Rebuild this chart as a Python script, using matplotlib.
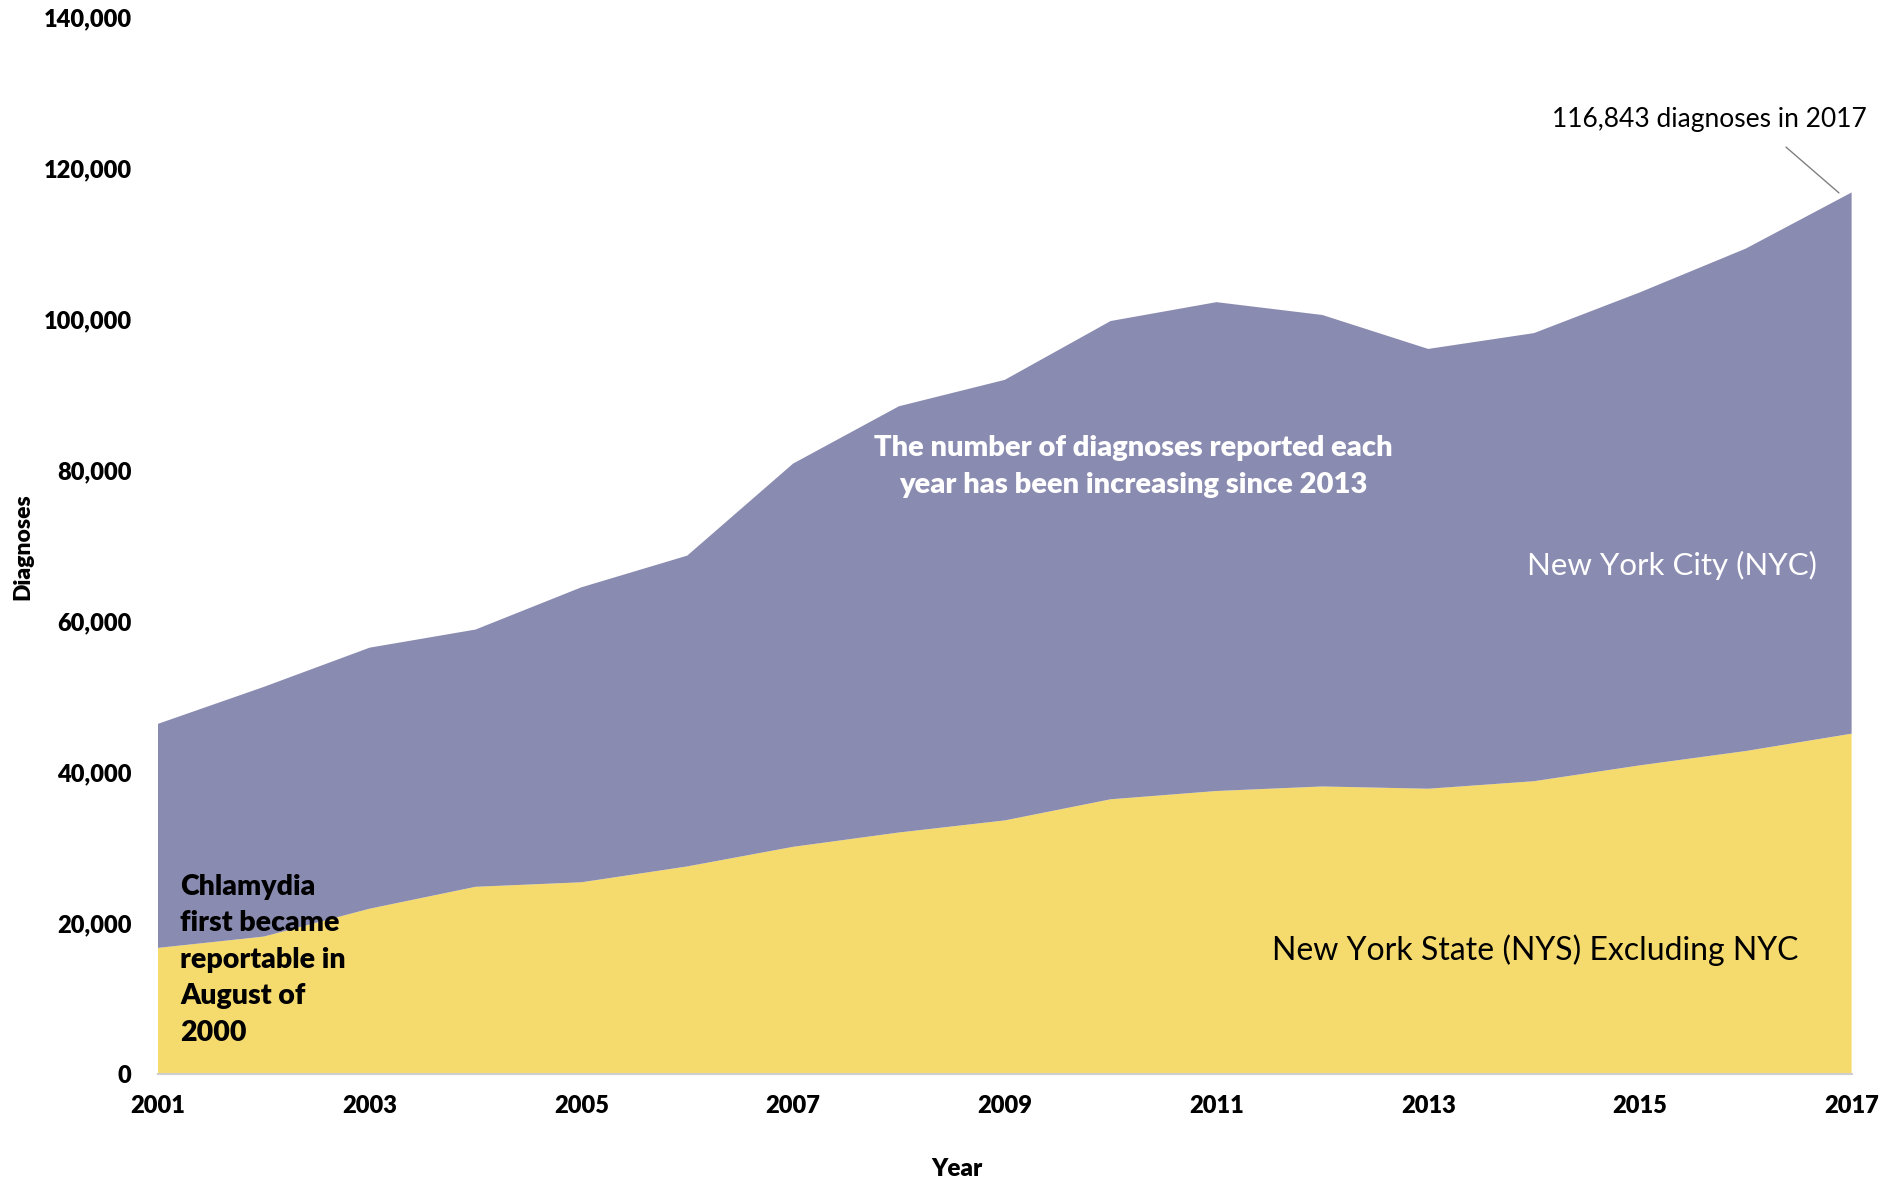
import numpy as np
import matplotlib.pyplot as plt
from matplotlib.ticker import FuncFormatter

plt.rcParams['font.family'] = ['Lato', 'DejaVu Sans']

years = np.arange(2001, 2018)
# diagnoses, New York State excluding NYC
nys = [16700, 18200, 21900, 24800, 25400, 27500, 30100, 32000, 33600,
       36400, 37500, 38100, 37800, 38800, 40900, 42800, 45100]
# diagnoses, New York City
nyc = [29700, 33100, 34600, 34100, 39100, 41200, 50800, 56500, 58400,
       63400, 64800, 62500, 58300, 59400, 62700, 66600, 71743]
total_2017 = 116843

col_nys = '#F5DB6D'
col_nyc = '#8A8BB0'
bold = 'heavy'

fig = plt.figure(figsize=(19.03, 11.84), dpi=100)
ax = fig.add_axes([0.083, 0.093, 0.890, 0.892])

ax.stackplot(years, nys, nyc, colors=[col_nys, col_nyc], lw=0)

ax.set_xlim(2001, 2017)
ax.set_ylim(0, 140000)
ax.set_xticks(np.arange(2001, 2018, 2))
ax.set_yticks(np.arange(0, 140001, 20000))
ax.yaxis.set_major_formatter(FuncFormatter(lambda v, p: f'{int(v):,}'))
ax.tick_params(length=0, labelsize=17, pad=15)
ax.tick_params(axis='y', pad=19)
for lab in ax.get_xticklabels() + ax.get_yticklabels():
    lab.set_fontweight(bold)

for s in ['top', 'right', 'left']:
    ax.spines[s].set_visible(False)
ax.spines['bottom'].set_color('#cfcfcf')
ax.spines['bottom'].set_linewidth(1.5)

fig.text(0.503, 0.013, 'Year', ha='center', va='center', fontsize=17.5, fontweight=bold)
fig.text(0.012, 0.538, 'Diagnoses', ha='center', va='center', rotation=90,
         fontsize=16.5, fontweight=bold)

# callout for the 2017 total
ax.text(2017.14, 126500, f'{total_2017:,} diagnoses in 2017', ha='right', va='center',
        fontsize=19)
ax.annotate('', xy=(2016.9, total_2017 - 300), xytext=(2016.36, 123100),
            arrowprops=dict(arrowstyle='-', color='#808080', lw=1))

ax.text(2010.21, 80500, 'The number of diagnoses reported each\nyear has been increasing since 2013',
        ha='center', va='center', color='white', fontsize=21, fontweight=bold,
        linespacing=1.5)
ax.text(2016.67, 67400, 'New York City (NYC)', ha='right', va='center', color='white',
        fontsize=22.5)
ax.text(2016.5, 16400, 'New York State (NYS) Excluding NYC', ha='right', va='center',
        color='black', fontsize=23)
ax.text(2001.21, 15100, 'Chlamydia\nfirst became\nreportable in\nAugust of\n2000',
        ha='left', va='center', color='black', fontsize=20.5, fontweight=bold,
        linespacing=1.5)

fig.savefig('out.png', dpi=100)
